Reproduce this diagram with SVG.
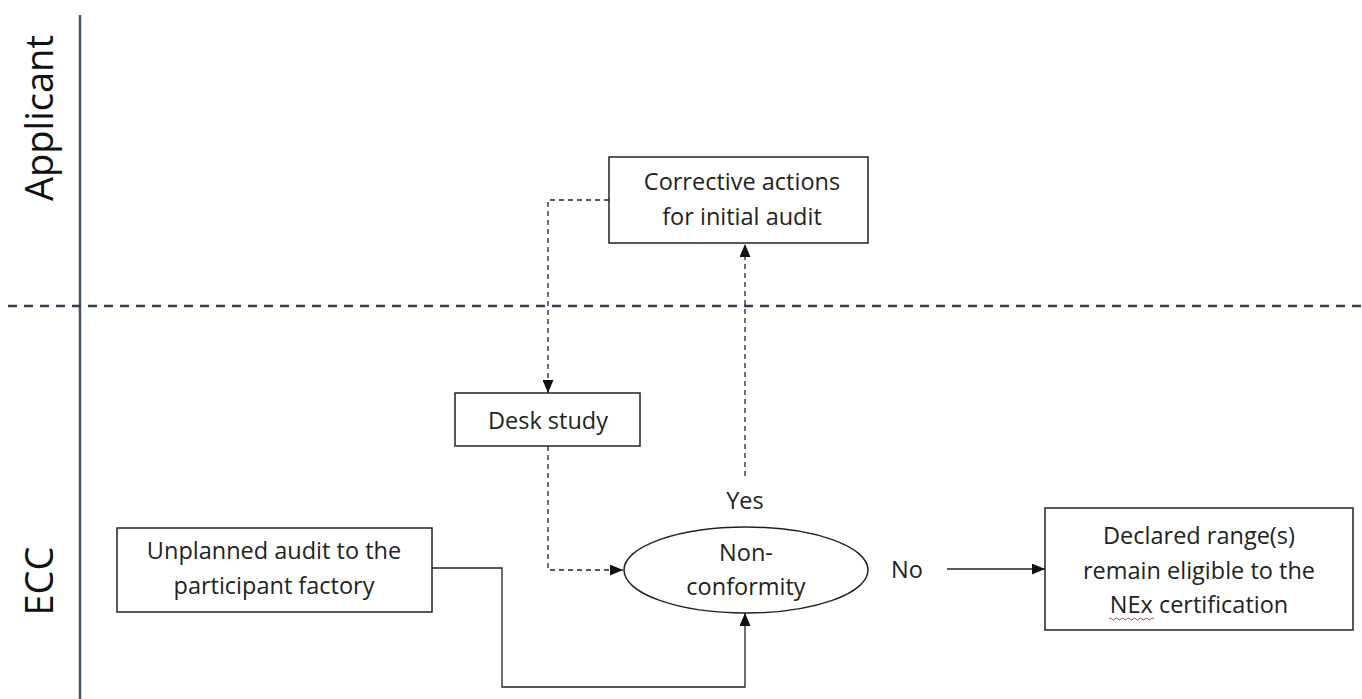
<svg xmlns="http://www.w3.org/2000/svg" width="1362" height="699" viewBox="0 0 1362 699">
<style>
.t{font-family:"Open Sans","Liberation Sans",sans-serif;font-size:23.5px;fill:#222;text-anchor:middle}
.lane{font-family:"Open Sans","Liberation Sans",sans-serif;font-size:38px;fill:#111;text-anchor:middle}
.box{fill:#fff;stroke:#222;stroke-width:1.5}
.c{fill:none;stroke:#222;stroke-width:1.3}
.d{fill:none;stroke:#222;stroke-width:1.3;stroke-dasharray:5 4}
</style>
<defs>
<marker id="ah" viewBox="0 0 13 11" refX="13" refY="5.5" markerWidth="13" markerHeight="11" markerUnits="userSpaceOnUse" orient="auto">
<path d="M0,0 L13,5.5 L0,11 z" fill="#111"/>
</marker>
</defs>
<g id="lanes">
<line x1="80" y1="15" x2="80" y2="699" stroke="#44546a" stroke-width="2.5"/>
<line x1="8" y1="306" x2="1362" y2="306" stroke="#333f50" stroke-width="2.5" stroke-dasharray="9 7"/>
<text class="lane" transform="translate(53,118) rotate(-90)">Applicant</text>
<text class="lane" transform="translate(53,581) rotate(-90)">ECC</text>
</g>
<g id="connectors">
<path class="d" d="M609,200 H548 V393" marker-end="url(#ah)"/>
<path class="d" d="M548,446 V570 H623" marker-end="url(#ah)"/>
<path class="d" d="M745,476 V244" marker-end="url(#ah)"/>
<path class="c" d="M432,568 H502 V687 H745 V613" marker-end="url(#ah)"/>
<path class="c" d="M947,569 H1045" marker-end="url(#ah)"/>
<text class="t" x="745" y="509">Yes</text>
<text class="t" x="907" y="578">No</text>
</g>
<g id="corrective">
<rect class="box" x="609" y="157" width="259" height="86"/>
<text class="t" x="742" y="190">Corrective actions</text>
<text class="t" x="742" y="225">for initial audit</text>
</g>
<g id="desk">
<rect class="box" x="455" y="393" width="185" height="53"/>
<text class="t" x="548" y="429">Desk study</text>
</g>
<g id="nonconformity">
<ellipse class="box" cx="746" cy="570" rx="122" ry="43"/>
<text class="t" x="746" y="561">Non-</text>
<text class="t" x="746" y="595">conformity</text>
</g>
<g id="unplanned">
<rect class="box" x="117" y="528" width="315" height="84"/>
<text class="t" x="274" y="559">Unplanned audit to the</text>
<text class="t" x="274" y="594">participant factory</text>
</g>
<g id="declared">
<rect class="box" x="1045" y="508" width="308" height="122"/>
<text class="t" x="1199" y="544">Declared range(s)</text>
<text class="t" x="1199" y="579">remain eligible to the</text>
<text class="t" x="1199" y="613">NEx certification</text>
<path d="M1109,619 q1.5,-2 3,0 t3,0 t3,0 t3,0 t3,0 t3,0 t3,0 t3,0 t3,0 t3,0 t3,0 t3,0 t3,0 t3,0 t3,0" fill="none" stroke="#e03030" stroke-width="1"/>
</g>
</svg>
